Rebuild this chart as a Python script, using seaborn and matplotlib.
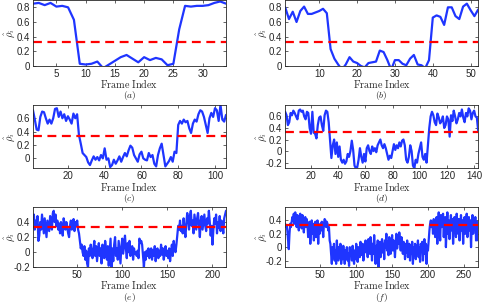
import matplotlib
matplotlib.use("Agg")
import matplotlib.pyplot as plt
import seaborn as sns
import numpy as np
from matplotlib.ticker import FormatStrFormatter

sns.set_style("ticks")
plt.rcParams['font.family'] = ['Liberation Sans', 'DejaVu Sans']
plt.rcParams['mathtext.fontset'] = 'cm'
plt.rcParams['axes.unicode_minus'] = False

# similarity of each frame
rho_a = [0.85, 0.86, 0.83, 0.86, 0.81, 0.82, 0.80, 0.63, 0.03, 0.02,
         0.03, 0.06, -0.03, 0.02, 0.07, 0.12, 0.15, 0.10, 0.05, 0.12,
         0.08, 0.11, 0.09, 0.01, 0.03, 0.50, 0.82, 0.81, 0.82, 0.82,
         0.83, 0.86, 0.88, 0.85]

rho_b = [0.80, 0.64, 0.74, 0.60, 0.75, 0.81, 0.71, 0.71, 0.73, 0.75,
         0.78, 0.72, 0.23, 0.10, 0.02, -0.05, 0.02, 0.12, 0.06, 0.04,
         0.00, -0.02, 0.04, 0.05, 0.06, 0.21, 0.19, 0.08, -0.05, 0.08,
         0.08, 0.03, 0.01, 0.10, 0.15, 0.02, 0.01, -0.03, 0.08, 0.66,
         0.69, 0.67, 0.56, 0.80, 0.80, 0.68, 0.64, 0.81, 0.85, 0.76,
         0.68, 0.77]

rho_c = [0.72, 0.58, 0.43, 0.42, 0.62, 0.70, 0.69, 0.60, 0.52, 0.58,
         0.52, 0.60, 0.74, 0.75, 0.62, 0.70, 0.60, 0.66, 0.56, 0.63,
         0.58, 0.52, 0.67, 0.60, 0.66, 0.35, 0.22, 0.08, 0.05, 0.02,
         -0.06, -0.10, -0.03, 0.03, -0.02, 0.02, -0.03, 0.05, 0.00, 0.15,
         -0.02, 0.00, -0.13, -0.10, -0.02, -0.08, -0.03, 0.03, -0.05, 0.02,
         0.08, 0.03, 0.12, 0.19, 0.16, 0.05, 0.00, -0.05, 0.06, 0.10,
         0.00, -0.02, -0.03, 0.08, 0.02, 0.05, -0.08, -0.12, 0.05, 0.15,
         0.22, 0.05, -0.12, -0.08, -0.04, 0.02, -0.05, 0.10, 0.08, 0.50,
         0.56, 0.52, 0.58, 0.54, 0.56, 0.45, 0.38, 0.52, 0.58, 0.55,
         0.66, 0.72, 0.70, 0.62, 0.50, 0.38, 0.60, 0.68, 0.62, 0.75,
         0.72, 0.56, 0.80, 0.58, 0.55, 0.65]

rho_d = [0.68, 0.62, 0.45, 0.50, 0.66, 0.62, 0.70, 0.66, 0.60, 0.55,
         0.70, 0.72, 0.68, 0.70, 0.60, 0.55, 0.68, 0.66, 0.40, 0.30,
         0.68, 0.32, 0.30, 0.22, 0.45, 0.58, 0.60, 0.45, 0.35, 0.62,
         0.70, 0.68, 0.50, 0.20, -0.12, 0.10, 0.20, -0.05, 0.15, -0.10,
         0.08, -0.15, -0.20, -0.15, -0.22, -0.18, -0.05, -0.10, 0.00, 0.18,
         0.02, -0.25, -0.30, -0.28, -0.15, 0.05, -0.10, -0.20, -0.05, -0.18,
         0.05, 0.10, 0.00, -0.05, 0.08, 0.00, 0.05, -0.02, 0.10, 0.15,
         0.20, 0.10, 0.05, 0.12, 0.05, -0.05, -0.15, -0.08, -0.12, 0.00,
         0.12, 0.02, 0.10, 0.05, 0.15, 0.08, 0.18, 0.20, 0.10, -0.15,
         -0.20, -0.10, 0.10, 0.00, -0.25, -0.30, -0.15, -0.20, -0.05, 0.05,
         0.15, -0.10, -0.15, -0.05, -0.20, 0.10, 0.40, 0.60, 0.68, 0.62,
         0.50, 0.45, 0.65, 0.58, 0.48, 0.52, 0.60, 0.40, 0.45, 0.60,
         0.55, 0.25, 0.62, 0.52, 0.70, 0.60, 0.48, 0.55, 0.66, 0.60,
         0.72, 0.58, 0.50, 0.66, 0.60, 0.74, 0.70, 0.55, 0.66, 0.70,
         0.60, 0.58, 0.35]

rho_e = [0.45, 0.50, 0.30, 0.42, 0.35, 0.48, 0.15, 0.22, 0.40, 0.30,
         0.50, 0.38, 0.25, 0.45, 0.32, 0.20, 0.42, 0.35, 0.28, 0.48,
         0.38, 0.30, 0.52, 0.55, 0.40, 0.50, 0.35, 0.42, 0.30, 0.38,
         0.25, 0.40, 0.35, 0.22, 0.45, 0.38, 0.30, 0.40, 0.33, 0.25,
         0.20, 0.35, 0.42, 0.30, 0.38, 0.44, 0.28, 0.40, 0.35, 0.42,
         0.30, 0.25, 0.15, 0.05, 0.10, 0.00, -0.05, 0.08, -0.10, 0.02,
         -0.15, -0.20, 0.05, -0.05, 0.10, 0.00, -0.08, 0.05, 0.15, -0.05,
         0.08, -0.12, 0.00, 0.12, -0.05, 0.05, -0.15, 0.10, 0.02, -0.08,
         0.15, 0.05, -0.10, 0.08, -0.18, 0.00, 0.18, -0.20, 0.05, -0.12,
         0.10, 0.20, -0.05, 0.05, -0.10, 0.15, 0.00, -0.15, 0.08, 0.18,
         -0.02, 0.10, 0.22, 0.05, -0.08, 0.12, 0.00, 0.15, -0.05, 0.02,
         0.08, -0.10, 0.05, -0.02, 0.00, -0.05, 0.02, -0.08, 0.18, 0.12,
         0.15, 0.10, -0.05, -0.20, 0.00, -0.10, 0.02, -0.05, 0.05, -0.08,
         -0.02, 0.05, -0.10, 0.03, -0.05, 0.08, -0.12, 0.00, 0.05, -0.08,
         0.02, -0.05, 0.10, -0.03, 0.05, -0.10, 0.00, 0.08, -0.05, 0.02,
         -0.08, 0.05, -0.12, 0.00, 0.10, -0.05, 0.15, 0.05, 0.00, 0.10,
         0.22, 0.35, 0.30, 0.42, 0.28, 0.35, 0.25, 0.45, 0.30, 0.20,
         0.38, 0.52, 0.45, 0.30, 0.48, 0.55, 0.35, 0.42, 0.25, 0.50,
         0.40, 0.30, 0.45, 0.52, 0.35, 0.20, 0.42, 0.48, 0.30, 0.40,
         0.50, 0.35, 0.28, 0.45, 0.38, 0.55, 0.40, 0.22, 0.35, 0.10,
         0.30, 0.45, 0.38, 0.50, 0.25, 0.40, 0.32, 0.48, 0.28, 0.42,
         0.35, 0.25, 0.45, 0.50, 0.55]

rho_f = [0.35, 0.30, 0.32, 0.25, 0.10, -0.03, 0.20, 0.35, 0.30, 0.38,
         0.45, 0.40, 0.50, 0.35, 0.52, 0.42, 0.30, 0.48, 0.38, 0.25,
         0.45, 0.50, 0.35, 0.28, 0.48, 0.40, 0.22, 0.38, 0.45, 0.30,
         0.42, 0.35, 0.15, 0.30, 0.38, 0.05, 0.25, 0.40, 0.20, 0.35,
         0.10, 0.30, 0.38, 0.15, 0.25, 0.40, 0.05, 0.30, 0.20, 0.35,
         0.25, 0.38, 0.30, 0.15, 0.35, 0.42, 0.40, 0.30, 0.38, 0.35,
         0.25, 0.30, 0.10, 0.05, -0.10, -0.25, 0.00, -0.15, 0.05, -0.20,
         -0.05, -0.25, 0.10, -0.10, -0.20, 0.00, -0.15, 0.05, -0.25, -0.08,
         -0.18, 0.02, -0.12, -0.25, -0.05, -0.15, 0.00, -0.20, -0.10, -0.28,
         0.00, -0.12, -0.05, -0.20, 0.02, -0.15, -0.25, -0.05, -0.18, 0.05,
         -0.10, -0.22, 0.00, -0.08, -0.15, 0.08, -0.05, -0.12, 0.05, -0.20,
         0.02, -0.08, 0.10, -0.05, 0.00, -0.15, 0.12, -0.02, -0.10, 0.15,
         0.00, -0.20, 0.05, -0.10, 0.18, -0.05, -0.25, 0.02, -0.12, 0.10,
         -0.30, -0.05, 0.08, -0.15, 0.00, 0.12, -0.08, 0.05, -0.18, 0.10,
         0.00, 0.20, -0.05, 0.08, -0.12, 0.15, 0.00, -0.10, 0.05, 0.18,
         -0.05, 0.10, 0.02, -0.15, 0.08, 0.20, -0.02, 0.12, 0.05, 0.22,
         0.10, -0.05, 0.15, 0.02, -0.10, 0.08, 0.00, -0.18, 0.05, -0.08,
         0.10, -0.15, 0.00, 0.05, -0.20, 0.02, -0.10, 0.08, -0.25, 0.00,
         -0.12, 0.05, -0.18, 0.02, -0.08, 0.10, -0.15, 0.00, -0.22, 0.05,
         -0.05, 0.08, -0.20, 0.00, 0.12, -0.10, 0.05, -0.25, 0.02, -0.05,
         0.10, 0.25, 0.35, 0.40, 0.30, 0.38, 0.20, 0.42, 0.35, 0.15,
         0.30, 0.45, 0.05, 0.35, 0.52, 0.25, 0.10, 0.48, 0.30, 0.40,
         0.50, 0.15, 0.38, 0.45, 0.00, 0.30, 0.52, 0.20, 0.40, 0.12,
         0.35, 0.48, 0.25, 0.42, 0.05, 0.30, 0.45, 0.38, 0.15, 0.50,
         0.35, 0.20, 0.42, 0.10, 0.30, 0.48, 0.25, 0.40, 0.05, 0.35,
         0.45, 0.20, 0.38, 0.50, 0.15, 0.30, 0.45, 0.25, 0.40, 0.00,
         0.35, 0.48, 0.20, 0.42, 0.30, 0.45, 0.10, 0.38, 0.25, 0.10]

threshold = 0.33

panels = ["a", "b", "c", "d", "e", "f"]
series = [rho_a, rho_b, rho_c, rho_d, rho_e, rho_f]
ylims = [(0, 0.9), (0, 0.9), (-0.15, 0.8), (-0.3, 0.8), (-0.2, 0.6), (-0.3, 0.6)]
yticks = [[0, 0.2, 0.4, 0.6, 0.8], [0, 0.2, 0.4, 0.6, 0.8], [0, 0.2, 0.4, 0.6],
          [-0.2, 0, 0.2, 0.4, 0.6], [-0.2, 0, 0.2, 0.4], [-0.2, 0, 0.2, 0.4]]
xticks = [[5, 10, 15, 20, 25, 30], [10, 20, 30, 40, 50], [20, 40, 60, 80, 100],
          [20, 40, 60, 80, 100, 120, 140], [50, 100, 150, 200], [50, 100, 150, 200, 250]]

# axes boxes in figure fractions (left, bottom, width, height)
lefts = [0.068, 0.588]
rows = [(0.783, 0.217), (0.446, 0.209), (0.121, 0.198)]

fig = plt.figure(figsize=(4.85, 3.04), dpi=100)

for i, name in enumerate(panels):
    r, c = divmod(i, 2)
    ax = fig.add_axes([lefts[c], rows[r][0], 0.398, rows[r][1]])
    y = np.array(series[i])
    x = np.arange(1, len(y) + 1)
    sns.lineplot(x=x, y=y, ax=ax, color="#1f35ff", linewidth=1.6)
    ax.axhline(threshold, color="#ff0000", linewidth=1.6, linestyle=(0, (4, 2.5)))
    ax.set_xlim(1, len(y))
    ax.set_ylim(*ylims[i])
    ax.set_xticks(xticks[i])
    ax.set_yticks(yticks[i])
    ax.yaxis.set_major_formatter(FormatStrFormatter('%g'))
    ax.tick_params(direction="in", top=True, right=True, length=2.5, width=0.5,
                   labelsize=7, pad=2)
    for s in ax.spines.values():
        s.set_linewidth(0.6)
    ax.set_xlabel("")
    ax.annotate(r"$\mathrm{Frame\ Index}$", xy=(0.5, 0), xycoords="axes fraction",
                xytext=(0, -12.8), textcoords="offset points",
                ha="center", va="center", fontsize=7.3)
    ax.annotate(r"$(%s)$" % name, xy=(0.5, 0), xycoords="axes fraction",
                xytext=(0, -21.6), textcoords="offset points",
                ha="center", va="center", fontsize=6.8)
    ax.set_ylabel(r"$\hat{\rho}_i$", fontsize=7.5)
    ax.yaxis.set_label_coords(-0.085, 0.5)

fig.savefig("out.png", dpi=100)
